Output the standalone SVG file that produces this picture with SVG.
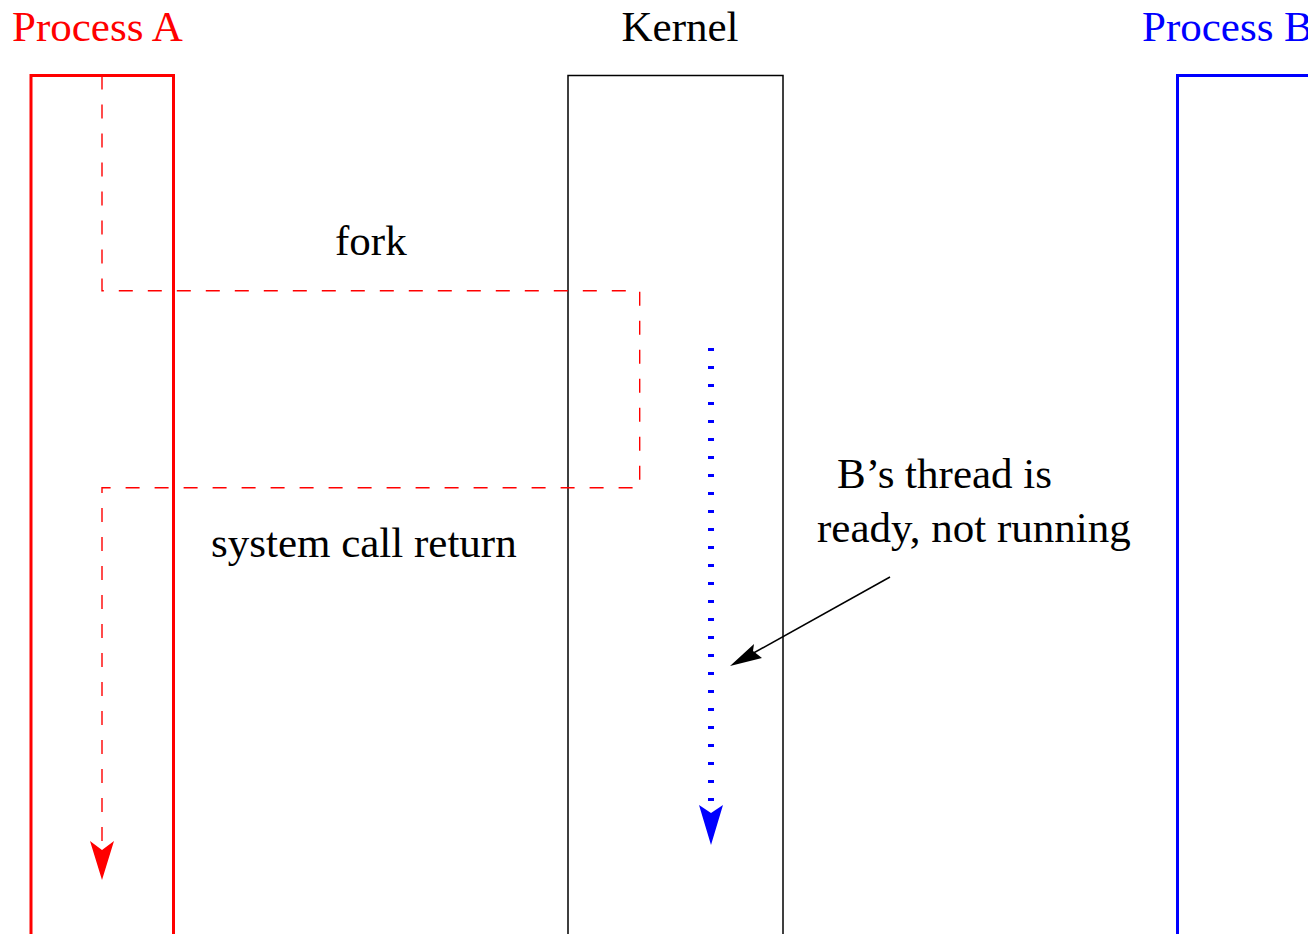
<svg xmlns="http://www.w3.org/2000/svg" width="1308" height="934" viewBox="0 0 1308 934">
<style>
text{font-family:"Liberation Serif","Times New Roman",serif;font-size:43px}
.red{fill:#ff0000}.blue{fill:#0000ff}.blk{fill:#000}
</style>
<rect width="1308" height="934" fill="#fff"/>
<g id="processA">
<rect x="31" y="75.5" width="142.5" height="880" fill="none" stroke="#ff0000" stroke-width="3"/>
<text x="12" y="40.5" class="red">Process A</text>
</g>
<g id="kernel">
<rect x="568" y="75.5" width="215" height="880" fill="none" stroke="#000" stroke-width="1.5"/>
<text x="680" y="40.5" class="blk" text-anchor="middle">Kernel</text>
</g>
<g id="processB">
<rect x="1177.5" y="75.5" width="200" height="880" fill="none" stroke="#0000ff" stroke-width="3"/>
<text x="1142" y="40.5" class="blue">Process B</text>
</g>
<g id="connectors">
<path d="M102 75.5 V290.7 H639.7 V487.7 H102 V845" fill="none" stroke="#ff0000" stroke-width="1.4" stroke-dasharray="14 15"/>
<path d="M102 880 L90 841 L102 850 L114 841 Z" fill="#ff0000"/>
<line x1="711" y1="348" x2="711" y2="808" stroke="#0000ff" stroke-width="6" stroke-dasharray="3 15"/>
<path d="M711 845 L699 805 L711 813 L723 805 Z" fill="#0000ff"/>
<line x1="890" y1="577" x2="750" y2="655" stroke="#000" stroke-width="1.5"/>
<path d="M730 666 L754 644 L753 651 L762 658 Z" fill="#000"/>
</g>
<g id="labels">
<text x="335" y="255" class="blk">fork</text>
<text x="211" y="557" class="blk">system call return</text>
<text x="837" y="488.3" class="blk">B’s thread is</text>
<text x="817" y="541.7" class="blk">ready, not running</text>
</g>
</svg>
